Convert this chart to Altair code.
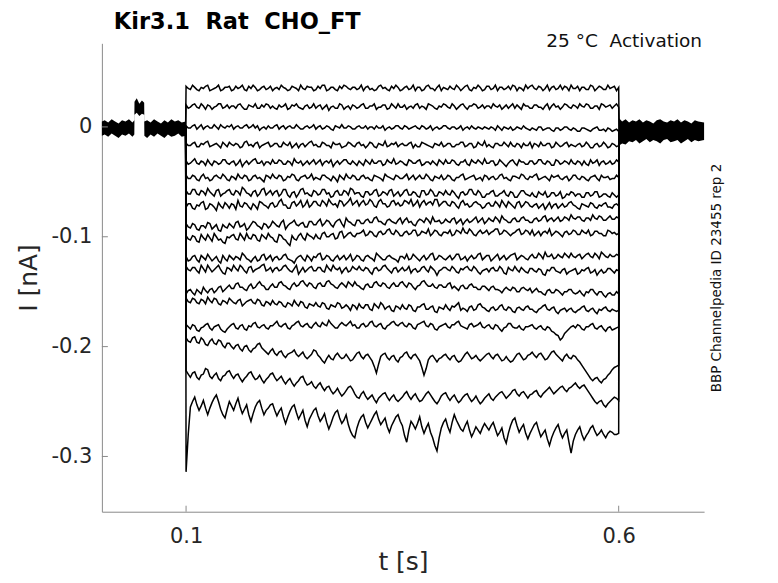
import altair as alt
import pandas as pd

# ---------------- text ----------------
NB = "\u00a0"
title_text = "Kir3.1" + NB + " Rat" + NB + " CHO_FT"
condition_text = "25 °C" + NB + " Activation"
source_text = "BBP Channelpedia ID 23455 rep 2"
x_title = "t [s]"
y_title = "I [nA]"

# ---------------- axes ----------------
x_ticks = [0.1, 0.6]
y_ticks = [0.0, -0.1, -0.2, -0.3]
x_domain = [0.0027, 0.6987]
y_domain = [-0.3503, 0.0761]

# ---------------- sweeps (pA) ----------------
# main samples every 5 ms from 0.100 s to 0.600 s; "mid" samples halfway between them
step_t0 = 0.100
step_dt = 0.005
hold_before_t = 0.0995
hold_after_t = 0.6005
hold_before_pA = 0
hold_after_pA = -3

sweep_01 = [37,34,36,33,35,38,34,36,33,36, 37,34,35,38,33,35,36,34,37,35,
            33,36,38,35,34,36,33,35,37,36, 34,35,38,34,36,33,35,37,34,36,
            35,33,37,35,34,38,36,33,35,36, 34,37,35,33,36,34,38,35,36,33,
            35,37,34,36,35,38,33,35,36,34, 37,35,33,36,35,34,37,36,33,35,
            38,34,36,35,33,37,35,34,36,38, 35,33,36,34,37,35,36,34,35,37, 36]
sweep_01_mid = [35,38,34,36,37,33,35,38,34,36, 33,37,36,34,37,38,33,36,34,37,
                35,34,36,33,37,35,38,34,36,33, 37,38,33,36,34,37,38,35,36,34,
                38,36,34,33,37,35,34,37,38,33, 36,34,38,36,33,37,35,33,38,36,
                34,35,38,33,37,34,36,38,33,37, 34,38,36,34,37,38,33,35,38,37,
                35,37,33,38,36,34,38,37,33,35, 37,36,34,38,33,37,34,38,36,33]
sweep_02 = [20,18,21,17,19,20,16,19,21,18, 17,19,20,18,16,19,21,17,18,20,
            19,16,18,21,17,19,18,16,20,18, 17,20,18,15,19,17,20,18,16,19,
            18,21,17,19,16,18,20,17,19,21, 18,16,19,20,17,18,21,19,16,18,
            20,17,19,18,21,16,19,20,18,17, 19,21,18,16,20,19,17,18,21,19,
            17,20,18,19,16,21,19,18,20,17, 19,21,18,20,17,19,21,18,20,19, 18]
sweep_02_mid = [17,20,18,21,16,19,18,21,17,20, 19,17,21,16,20,18,17,20,21,17,
                17,20,19,16,20,21,17,19,17,21, 19,16,20,18,17,21,16,19,20,17,
                20,17,19,21,18,20,16,21,17,18, 20,18,17,21,19,16,20,17,19,21,
                18,21,16,20,18,19,21,17,20,19, 17,19,20,18,17,21,20,16,19,17,
                20,18,16,21,19,18,16,21,18,20, 17,19,21,17,19,16,20,19,17,21]
sweep_03 = [1,-1,2,0,-2,1,-1,0,2,-1, 0,-2,1,-1,2,0,-1,-3,0,1,
            -1,2,0,-2,1,-1,0,-2,1,0, -2,1,-1,0,-3,0,2,-1,0,-2,
            1,-1,-2,0,1,-1,-3,0,-1,1, -2,0,-1,1,-2,0,-1,-3,0,-1,
            1,-2,0,-1,-3,0,1,-2,-1,0, -2,-1,1,-3,-1,0,-2,-1,1,-2,
            -1,-3,0,-2,-1,-4,-1,-2,0,-3, -2,-4,-1,-3,-2,0,-3,-4,-2,-3, -4]
sweep_03_mid = [-1,1,-2,2,0,-1,2,-2,0,1, 2,0,-1,1,-1,2,1,-1,-2,-1,
                1,-2,1,0,-1,2,-2,0,-1,2, 0,-2,1,-2,1,-1,-1,1,-2,0,
                -1,1,0,-2,-1,1,-1,-2,1,-1, 1,-2,0,-1,1,-2,1,-1,-2,1,
                -1,0,-2,1,-1,-2,-1,0,-2,-1, 0,-3,-1,0,-2,-3,0,-2,-1,-3,
                -2,0,-3,-1,-3,-1,-3,0,-2,-1, -4,-1,-2,-4,-1,-3,-2,-1,-4,-2]
sweep_04 = [-15,-17,-14,-18,-16,-13,-17,-15,-19,-16, -14,-17,-16,-18,-13,-16,-15,-19,-16,-14,
            -17,-15,-18,-16,-14,-17,-19,-15,-16,-13, -16,-18,-15,-17,-14,-16,-19,-17,-15,-18,
            -14,-16,-17,-15,-19,-16,-13,-17,-16,-18, -15,-17,-14,-16,-18,-15,-17,-19,-16,-14,
            -17,-15,-18,-16,-14,-17,-15,-18,-16,-13, -16,-19,-15,-17,-16,-14,-18,-16,-15,-17,
            -19,-16,-14,-17,-15,-18,-16,-17,-14,-16, -18,-15,-17,-16,-19,-15,-17,-16,-18,-16, -17]
sweep_04_mid = [-17,-15,-18,-15,-14,-18,-16,-17,-14,-18, -16,-15,-19,-14,-17,-18,-14,-17,-15,-18,
                -15,-18,-14,-17,-19,-15,-16,-18,-14,-17, -18,-14,-17,-19,-16,-15,-18,-14,-17,-15,
                -17,-19,-14,-18,-15,-17,-18,-15,-14,-16, -17,-15,-19,-18,-14,-16,-18,-15,-17,-18,
                -15,-18,-16,-14,-18,-15,-19,-14,-17,-18, -18,-15,-17,-14,-18,-17,-15,-19,-17,-14,
                -15,-18,-17,-15,-19,-14,-18,-15,-18,-17, -16,-18,-14,-19,-16,-18,-14,-19,-15,-18]
sweep_05 = [-31,-33,-29,-34,-32,-30,-35,-32,-33,-30, -34,-31,-33,-36,-31,-32,-29,-33,-35,-32,
            -30,-33,-31,-34,-32,-29,-33,-35,-31,-32, -34,-30,-32,-33,-36,-31,-32,-30,-34,-33,
            -31,-35,-32,-30,-33,-31,-34,-32,-29,-33, -32,-35,-31,-33,-30,-34,-32,-31,-35,-32,
            -30,-33,-31,-35,-32,-34,-30,-33,-32,-29, -33,-31,-34,-32,-36,-31,-33,-30,-32,-34,
            -31,-33,-30,-34,-32,-35,-31,-33,-32,-30, -34,-32,-31,-35,-33,-30,-32,-34,-31,-33, -32]
sweep_05_mid = [-34,-31,-33,-31,-35,-33,-31,-34,-30,-33, -32,-35,-30,-33,-34,-30,-33,-31,-32,-34,
                -33,-30,-34,-31,-35,-32,-31,-33,-34,-30, -32,-35,-31,-30,-33,-34,-30,-33,-31,-35,
                -33,-30,-34,-33,-31,-35,-30,-33,-34,-31, -34,-30,-33,-31,-35,-32,-34,-33,-30,-34,
                -33,-30,-34,-32,-30,-35,-32,-30,-34,-33, -31,-35,-30,-34,-33,-30,-35,-32,-34,-31,
                -34,-30,-33,-31,-35,-30,-34,-31,-34,-33, -31,-35,-34,-30,-32,-35,-31,-33,-34,-30]
sweep_06 = [-44,-47,-45,-49,-43,-46,-48,-44,-47,-45, -49,-46,-43,-47,-45,-48,-44,-46,-50,-45,
            -43,-47,-45,-48,-46,-44,-49,-45,-47,-43, -46,-48,-44,-47,-45,-50,-46,-43,-47,-45,
            -48,-44,-46,-49,-45,-47,-43,-46,-48,-45, -47,-43,-46,-48,-44,-47,-45,-49,-46,-44,
            -47,-45,-49,-46,-43,-47,-45,-48,-46,-44, -48,-45,-47,-43,-46,-49,-45,-47,-44,-48,
            -46,-43,-47,-45,-49,-46,-44,-48,-45,-47, -44,-48,-46,-49,-45,-47,-44,-46,-48,-47, -46]
sweep_06_mid = [-47,-44,-48,-45,-47,-49,-45,-46,-43,-48, -45,-48,-46,-44,-49,-45,-47,-48,-44,-47,
                -46,-44,-49,-45,-43,-48,-46,-44,-46,-48, -47,-44,-46,-49,-47,-44,-48,-46,-44,-48,
                -45,-47,-48,-44,-46,-49,-45,-47,-44,-47, -45,-48,-44,-46,-47,-43,-48,-45,-47,-48,
                -44,-48,-46,-44,-48,-46,-44,-47,-49,-45, -46,-48,-44,-47,-48,-45,-46,-43,-47,-45,
                -44,-48,-46,-47,-44,-45,-47,-46,-49,-44, -47,-45,-48,-46,-44,-49,-46,-45,-47,-44]
sweep_07 = [-58,-61,-57,-62,-59,-56,-61,-58,-63,-60, -57,-62,-59,-55,-60,-63,-58,-61,-56,-60,
            -62,-58,-61,-57,-64,-59,-61,-56,-60,-63, -59,-61,-57,-60,-63,-58,-62,-59,-56,-61,
            -60,-64,-59,-61,-57,-62,-60,-58,-63,-59, -61,-57,-62,-60,-64,-58,-61,-59,-63,-60,
            -58,-62,-60,-65,-59,-61,-57,-62,-60,-64, -61,-58,-63,-60,-62,-59,-64,-61,-58,-62,
            -60,-64,-61,-59,-63,-60,-62,-65,-61,-59, -63,-61,-64,-60,-62,-59,-63,-61,-64,-62, -62]
sweep_07_mid = [-61,-57,-61,-58,-62,-59,-63,-57,-61,-58, -61,-58,-62,-57,-61,-59,-63,-57,-62,-58,
                -59,-63,-57,-62,-60,-64,-57,-61,-62,-58, -62,-57,-61,-64,-59,-62,-58,-62,-57,-60,
                -63,-59,-62,-58,-63,-59,-62,-57,-61,-63, -58,-62,-59,-63,-58,-62,-57,-63,-59,-62,
                -61,-58,-63,-60,-62,-57,-61,-58,-64,-61, -59,-63,-61,-58,-63,-60,-64,-58,-61,-63,
                -63,-59,-62,-64,-60,-63,-59,-64,-62,-60, -61,-64,-60,-63,-59,-64,-61,-63,-60,-64]
sweep_08 = [-73,-70,-75,-72,-68,-74,-71,-76,-72,-69, -74,-71,-67,-73,-70,-75,-72,-68,-71,-74,
            -69,-72,-66,-71,-74,-68,-70,-73,-67,-71, -68,-72,-69,-66,-71,-73,-68,-70,-65,-69,
            -72,-67,-70,-68,-73,-66,-70,-72,-67,-69, -71,-68,-66,-70,-73,-67,-69,-71,-66,-70,
            -68,-72,-69,-74,-67,-70,-72,-68,-71,-73, -69,-72,-70,-67,-73,-70,-74,-68,-71,-69,
            -73,-70,-72,-75,-69,-71,-74,-70,-72,-68, -72,-75,-71,-73,-70,-74,-72,-69,-73,-71, -72]
sweep_08_mid = [-70,-74,-71,-69,-75,-70,-73,-69,-74,-71, -70,-75,-72,-69,-73,-70,-75,-69,-72,-70,
                -73,-68,-71,-74,-69,-72,-67,-71,-73,-68, -71,-67,-72,-69,-70,-67,-72,-68,-71,-67,
                -69,-71,-66,-72,-68,-70,-73,-68,-71,-72, -67,-70,-72,-67,-69,-71,-68,-66,-72,-68,
                -71,-68,-72,-69,-71,-73,-69,-70,-74,-70, -72,-68,-73,-70,-68,-72,-69,-73,-68,-72,
                -71,-74,-70,-72,-74,-70,-72,-73,-69,-71, -74,-70,-72,-69,-73,-71,-70,-73,-74,-70]
sweep_09 = [-88,-92,-89,-94,-90,-87,-93,-89,-95,-91, -88,-92,-86,-90,-94,-89,-87,-91,-88,-92,
            -86,-90,-87,-93,-88,-85,-90,-87,-91,-86, -89,-84,-88,-86,-91,-85,-88,-83,-87,-90,
            -85,-88,-84,-87,-82,-86,-89,-84,-87,-85, -88,-83,-86,-90,-84,-87,-85,-82,-86,-88,
            -84,-87,-83,-86,-89,-84,-86,-82,-85,-88, -83,-86,-84,-81,-85,-87,-83,-86,-82,-85,
            -87,-83,-85,-81,-84,-86,-82,-85,-83,-80, -84,-82,-86,-83,-80,-84,-82,-85,-81,-84, -83]
sweep_09_mid = [-91,-88,-93,-90,-92,-88,-91,-94,-89,-92, -90,-87,-91,-88,-92,-86,-90,-93,-89,-90,
                -88,-91,-85,-90,-87,-89,-88,-91,-86,-89, -86,-90,-85,-89,-87,-84,-91,-86,-89,-85,
                -88,-85,-87,-83,-86,-88,-85,-86,-88,-83, -85,-87,-89,-86,-85,-83,-88,-86,-85,-87,
                -86,-84,-88,-84,-86,-87,-84,-87,-83,-86, -85,-82,-87,-84,-87,-84,-86,-83,-85,-87,
                -84,-86,-82,-86,-83,-84,-86,-82,-85,-83, -82,-85,-83,-85,-83,-81,-85,-83,-84,-82]
sweep_10 = [-99,-103,-100,-105,-101,-98,-104,-100,-102,-106, -101,-98,-103,-100,-97,-102,-99,-104,-100,-97,
            -101,-105,-99,-103,-108,-102,-99,-101,-97,-100, -98,-102,-96,-100,-97,-101,-95,-99,-96,-100,
            -97,-94,-98,-96,-100,-95,-97,-93,-98,-96, -99,-95,-97,-94,-98,-96,-93,-97,-95,-99,
            -96,-94,-98,-95,-92,-97,-95,-99,-94,-96, -98,-95,-93,-97,-95,-99,-96,-93,-97,-95,
            -94,-97,-99,-95,-93,-97,-96,-100,-95,-97, -95,-98,-96,-94,-98,-95,-97,-99,-95,-96, -97]
sweep_10_mid = [-102,-99,-104,-98,-103,-101,-97,-103,-105,-100, -99,-102,-97,-103,-101,-98,-103,-98,-102,-100,
                -104,-98,-102,-106,-99,-103,-97,-103,-99,-102, -101,-97,-100,-98,-102,-96,-101,-97,-99,-97,
                -96,-99,-95,-99,-96,-98,-94,-97,-94,-99, -96,-98,-94,-99,-95,-97,-99,-94,-98,-96,
                -97,-99,-94,-97,-96,-93,-98,-96,-97,-94, -96,-93,-98,-94,-97,-97,-94,-98,-94,-98,
                -99,-95,-96,-97,-99,-95,-98,-96,-98,-94, -98,-94,-97,-99,-95,-97,-99,-94,-97,-98]
sweep_11 = [-118,-121,-117,-123,-119,-116,-122,-118,-124,-120, -117,-121,-119,-115,-120,-123,-118,-121,-116,-119,
            -122,-118,-120,-116,-121,-124,-118,-120,-117,-122, -119,-115,-120,-118,-122,-117,-119,-121,-116,-120,
            -118,-122,-117,-120,-115,-119,-121,-117,-120,-123, -118,-116,-120,-118,-122,-117,-119,-115,-120,-118,
            -121,-117,-119,-116,-120,-122,-117,-119,-115,-119, -117,-120,-116,-119,-121,-117,-115,-119,-118,-121,
            -116,-119,-117,-114,-118,-120,-116,-119,-117,-115, -119,-116,-118,-115,-119,-117,-114,-118,-116,-118, -117]
sweep_11_mid = [-122,-118,-121,-117,-121,-119,-120,-122,-117,-122, -119,-118,-121,-117,-121,-120,-122,-117,-121,-117,
                -119,-121,-117,-120,-122,-120,-117,-122,-119,-118, -116,-121,-117,-121,-119,-121,-117,-119,-122,-117,
                -121,-118,-119,-122,-117,-121,-118,-119,-121,-118, -120,-121,-116,-120,-119,-121,-116,-121,-117,-120,
                -119,-121,-116,-121,-118,-119,-120,-116,-121,-117, -122,-118,-121,-117,-119,-116,-121,-117,-120,-118,
                -119,-115,-120,-118,-116,-119,-118,-115,-119,-118, -117,-120,-116,-118,-115,-120,-116,-119,-118,-116]
sweep_12 = [-127,-131,-128,-133,-129,-126,-132,-128,-130,-134, -129,-126,-131,-128,-133,-127,-130,-128,-125,-130,
            -132,-128,-130,-126,-131,-129,-134,-128,-130,-127, -131,-128,-132,-129,-126,-130,-133,-128,-131,-129,
            -127,-131,-129,-134,-128,-130,-126,-131,-129,-132, -128,-130,-133,-129,-131,-127,-132,-129,-135,-130,
            -128,-131,-129,-133,-130,-127,-131,-129,-134,-130, -132,-128,-131,-129,-134,-130,-127,-132,-130,-133,
            -129,-132,-130,-135,-131,-128,-132,-130,-134,-131, -129,-133,-131,-128,-132,-135,-130,-132,-129,-133, -131]
sweep_12_mid = [-130,-128,-131,-126,-132,-129,-130,-126,-133,-128, -131,-129,-126,-131,-128,-132,-129,-126,-131,-128,
                -129,-131,-127,-129,-132,-126,-131,-132,-128,-131, -128,-131,-126,-131,-129,-128,-130,-132,-127,-130,
                -130,-128,-132,-129,-131,-127,-129,-133,-128,-130, -131,-127,-130,-132,-128,-130,-127,-131,-131,-128,
                -130,-127,-132,-129,-128,-130,-127,-132,-131,-129, -129,-131,-127,-133,-128,-131,-130,-128,-132,-129,
                -131,-129,-134,-130,-128,-131,-133,-129,-132,-130, -134,-130,-129,-133,-130,-132,-133,-129,-131,-130]
sweep_13 = [-152,-148,-153,-150,-146,-151,-147,-149,-145,-148, -144,-147,-142,-146,-149,-143,-146,-141,-145,-148,
            -143,-146,-141,-145,-148,-142,-144,-140,-145,-143, -147,-142,-145,-140,-144,-147,-142,-146,-143,-141,
            -145,-148,-143,-146,-141,-145,-143,-147,-142,-145, -141,-146,-143,-148,-144,-140,-145,-143,-147,-144,
            -146,-142,-145,-149,-144,-147,-143,-146,-148,-145, -149,-145,-148,-151,-146,-149,-147,-150,-146,-149,
            -151,-147,-150,-153,-148,-151,-149,-153,-150,-148, -152,-149,-154,-151,-148,-153,-150,-155,-151,-153, -152]
sweep_13_mid = [-149,-151,-148,-152,-149,-148,-151,-146,-150,-146, -147,-143,-146,-148,-145,-147,-143,-144,-148,-145,
                -146,-142,-144,-147,-144,-145,-141,-143,-142,-146, -143,-145,-141,-143,-146,-144,-144,-141,-145,-144,
                -147,-144,-146,-142,-144,-142,-146,-144,-145,-142, -144,-142,-146,-145,-141,-143,-145,-146,-144,-146,
                -143,-147,-147,-145,-147,-144,-146,-148,-145,-147, -146,-148,-149,-148,-148,-146,-150,-147,-148,-147,
                -149,-150,-152,-149,-151,-148,-151,-150,-148,-151, -151,-152,-150,-148,-151,-150,-153,-152,-153,-150]
sweep_14 = [-156,-160,-157,-161,-158,-155,-160,-157,-162,-159, -156,-160,-158,-163,-159,-157,-161,-158,-163,-160,
            -158,-162,-160,-164,-161,-158,-163,-160,-165,-162, -160,-164,-161,-166,-163,-160,-165,-162,-167,-163,
            -161,-165,-162,-167,-163,-160,-166,-163,-168,-164, -162,-166,-163,-168,-164,-161,-166,-163,-169,-165,
            -162,-167,-164,-160,-165,-168,-163,-166,-161,-165, -168,-164,-166,-162,-167,-165,-169,-164,-167,-163,
            -166,-169,-165,-162,-167,-164,-170,-166,-168,-165, -169,-166,-163,-168,-165,-170,-167,-164,-168,-167, -167]
sweep_14_mid = [-159,-156,-160,-157,-161,-158,-156,-161,-158,-161, -158,-161,-157,-161,-158,-160,-157,-162,-159,-162,
                -161,-159,-163,-160,-163,-161,-159,-164,-161,-163, -163,-160,-165,-162,-164,-161,-164,-164,-162,-166,
                -164,-162,-166,-161,-165,-162,-164,-167,-163,-166, -165,-162,-167,-164,-162,-166,-164,-168,-164,-166,
                -165,-163,-162,-167,-166,-164,-167,-162,-164,-167, -165,-167,-163,-166,-164,-168,-165,-166,-164,-166,
                -168,-166,-163,-166,-165,-168,-167,-165,-166,-168, -167,-164,-167,-166,-168,-166,-165,-167,-166,-168]
sweep_15 = [-180,-184,-181,-186,-182,-179,-185,-181,-184,-187, -182,-179,-184,-180,-185,-182,-178,-183,-180,-184,
            -181,-177,-182,-179,-184,-180,-177,-182,-179,-183, -178,-182,-180,-176,-181,-183,-178,-181,-177,-180,
            -183,-179,-181,-177,-182,-179,-184,-180,-177,-181, -178,-182,-180,-184,-179,-177,-182,-180,-185,-181,
            -179,-183,-180,-177,-182,-184,-179,-181,-178,-183, -180,-184,-181,-186,-182,-179,-183,-181,-185,-182,
            -180,-184,-181,-185,-183,-187,-190,-192,-186,-182, -183,-181,-185,-182,-179,-184,-181,-186,-182,-184, -182]
sweep_15_mid = [-182,-180,-185,-183,-180,-183,-182,-180,-186,-184, -180,-183,-181,-184,-181,-179,-182,-181,-183,-181,
                -179,-181,-180,-183,-181,-178,-181,-180,-182,-180, -181,-178,-181,-179,-183,-180,-180,-179,-181,-183,
                -180,-182,-178,-181,-180,-183,-181,-178,-180,-179, -181,-179,-183,-180,-178,-181,-179,-184,-182,-180,
                -182,-180,-178,-181,-183,-180,-182,-180,-182,-181, -183,-180,-184,-183,-179,-182,-183,-184,-182,-181,
                -183,-182,-184,-182,-186,-189,-194,-188,-184,-181, -180,-184,-182,-180,-183,-182,-184,-183,-185,-183]
sweep_16 = [-192,-196,-191,-197,-194,-199,-193,-198,-195,-201, -197,-202,-198,-204,-199,-205,-201,-197,-203,-207,
            -202,-208,-204,-210,-206,-203,-209,-205,-211,-207, -204,-210,-215,-208,-212,-206,-211,-207,-213,-209,
            -205,-211,-207,-213,-224,-209,-206,-212,-208,-214, -209,-205,-211,-207,-213,-226,-212,-208,-214,-210,
            -207,-212,-208,-214,-210,-205,-211,-208,-213,-209, -206,-211,-207,-213,-209,-214,-210,-206,-212,-208,
            -205,-210,-206,-212,-208,-204,-209,-213,-207,-211, -209,-214,-220,-226,-231,-228,-233,-229,-224,-219, -217]
sweep_16_mid = [-195,-192,-196,-192,-198,-195,-197,-194,-199,-197, -200,-199,-202,-200,-203,-202,-198,-201,-205,-204,
                -206,-205,-208,-207,-205,-207,-207,-209,-209,-203, -208,-213,-211,-211,-208,-209,-210,-210,-212,-206,
                -209,-208,-210,-218,-216,-207,-210,-209,-212,-210, -206,-209,-208,-210,-219,-220,-209,-211,-211,-208,
                -210,-209,-212,-213,-207,-208,-210,-211,-211,-207, -209,-208,-210,-212,-212,-213,-207,-209,-211,-207,
                -208,-207,-209,-211,-205,-207,-211,-209,-210,-208, -212,-217,-223,-229,-229,-231,-230,-226,-221,-218]
sweep_17 = [-222,-228,-223,-230,-225,-221,-229,-224,-231,-226, -222,-229,-225,-232,-227,-223,-230,-226,-233,-228,
            -224,-231,-227,-234,-229,-236,-231,-227,-235,-232, -238,-233,-240,-236,-243,-238,-245,-240,-236,-243,
            -247,-241,-248,-244,-251,-245,-242,-249,-244,-250, -246,-241,-248,-243,-250,-246,-241,-247,-252,-245,
            -242,-249,-244,-251,-246,-243,-250,-245,-252,-247, -243,-249,-244,-241,-247,-243,-239,-245,-241,-247,
            -243,-240,-246,-241,-237,-243,-239,-236,-241,-237, -233,-238,-235,-241,-247,-252,-249,-255,-250,-246, -249]
sweep_17_mid = [-225,-224,-228,-226,-220,-227,-226,-229,-227,-223, -226,-226,-229,-229,-224,-227,-229,-230,-230,-225,
                -228,-229,-231,-231,-233,-233,-228,-232,-234,-236, -235,-237,-237,-240,-241,-242,-243,-237,-239,-246,
                -243,-245,-246,-248,-247,-243,-246,-246,-248,-248, -243,-245,-245,-247,-249,-243,-244,-250,-249,-243,
                -246,-246,-248,-249,-244,-247,-248,-249,-250,-245, -247,-246,-242,-244,-245,-240,-243,-242,-244,-244,
                -241,-244,-243,-239,-240,-241,-237,-239,-238,-235, -236,-236,-238,-244,-250,-250,-253,-252,-248,-247]
sweep_18 = [-314,-255,-246,-258,-249,-262,-251,-244,-257,-265, -250,-258,-247,-261,-253,-268,-255,-249,-262,-256,
            -252,-263,-256,-270,-259,-253,-266,-258,-273,-262, -256,-268,-261,-275,-264,-258,-270,-262,-277,-283,
            -268,-262,-274,-266,-259,-271,-265,-278,-268,-262, -272,-287,-268,-275,-264,-279,-270,-283,-295,-274,
            -266,-278,-262,-271,-277,-268,-282,-273,-279,-270, -276,-269,-281,-274,-288,-272,-265,-278,-271,-284,
            -275,-269,-282,-276,-290,-278,-271,-283,-276,-297, -280,-273,-285,-278,-272,-281,-276,-283,-277,-280, -279]
sweep_18_mid = [-280,-250,-253,-254,-256,-256,-247,-250,-262,-257, -254,-252,-255,-257,-262,-261,-251,-256,-258,-253,
                -258,-259,-264,-264,-255,-260,-262,-267,-266,-258, -263,-265,-269,-270,-260,-265,-267,-271,-281,-274,
                -264,-269,-270,-262,-266,-268,-273,-272,-264,-268, -281,-276,-271,-270,-273,-274,-278,-290,-283,-269,
                -273,-269,-267,-275,-272,-276,-278,-276,-274,-273, -272,-275,-278,-283,-279,-267,-272,-274,-279,-279,
                -271,-276,-279,-284,-283,-274,-278,-279,-287,-286, -276,-280,-281,-274,-277,-279,-280,-279,-278,-280]

sweeps = [(sweep_01, sweep_01_mid), (sweep_02, sweep_02_mid), (sweep_03, sweep_03_mid),
          (sweep_04, sweep_04_mid), (sweep_05, sweep_05_mid), (sweep_06, sweep_06_mid),
          (sweep_07, sweep_07_mid), (sweep_08, sweep_08_mid), (sweep_09, sweep_09_mid),
          (sweep_10, sweep_10_mid), (sweep_11, sweep_11_mid), (sweep_12, sweep_12_mid),
          (sweep_13, sweep_13_mid), (sweep_14, sweep_14_mid), (sweep_15, sweep_15_mid),
          (sweep_16, sweep_16_mid), (sweep_17, sweep_17_mid), (sweep_18, sweep_18_mid)]

# ---------------- overlapping holding-current band (pA envelope of all sweeps) ----------------
band_pre_t = [0.0027, 0.006, 0.010, 0.014, 0.018, 0.022, 0.026, 0.030, 0.034, 0.038,
              0.0402, 0.0404, 0.043, 0.046, 0.049, 0.0516, 0.0518, 0.055, 0.059, 0.063,
              0.067, 0.071, 0.075, 0.079, 0.083, 0.087, 0.091, 0.095, 0.0995]
band_pre_hi = [5, 6, 4, 7, 5, 3, 6, 5, 7, 4,
               6, 23, 26, 21, 24, 22, 5, 6, 4, 7,
               5, 3, 6, 4, 7, 5, 6, 4, 5]
band_pre_lo = [-8, -7, -9, -6, -8, -10, -7, -8, -6, -9,
               -7, 11, 13, 10, 12, 11, -8, -10, -7, -9,
               -6, -8, -10, -7, -9, -8, -6, -9, -8]
band_post_t = [0.6005, 0.604, 0.608, 0.612, 0.616, 0.620, 0.624, 0.628, 0.632, 0.636,
               0.640, 0.644, 0.648, 0.652, 0.656, 0.660, 0.664, 0.668, 0.672, 0.676,
               0.680, 0.684, 0.688, 0.692, 0.6987]
band_post_hi = [8, 5, 7, 4, 6, 5, 7, 4, 6, 5, 3, 6, 7, 5, 4, 6, 5, 7, 4, 6, 5, 3, 6, 5, 4]
band_post_lo = [-17, -15, -16, -13, -14, -12, -15, -13, -11, -14, -12, -13, -15, -12, -11,
                -14, -13, -12, -15, -13, -11, -14, -12, -13, -12]

# ---------------- tables ----------------
rows = []
for i, (main, mid) in enumerate(sweeps, start=1):
    rows.append({"sweep": i, "t": hold_before_t, "I": hold_before_pA / 1000})
    for k, v in enumerate(main):
        rows.append({"sweep": i, "t": round(step_t0 + step_dt * k, 5), "I": v / 1000})
        if k < len(mid) and k < len(main) - 1:
            rows.append({"sweep": i, "t": round(step_t0 + step_dt * (k + 0.5), 5),
                         "I": mid[k] / 1000})
    rows.append({"sweep": i, "t": hold_after_t, "I": hold_after_pA / 1000})
traces = pd.DataFrame(rows)

band_rows = []
for t, hi, lo in zip(band_pre_t, band_pre_hi, band_pre_lo):
    band_rows.append({"seg": "pre", "t": t, "I": hi / 1000, "I2": lo / 1000})
for t, hi, lo in zip(band_post_t, band_post_hi, band_post_lo):
    band_rows.append({"seg": "post", "t": t, "I": hi / 1000, "I2": lo / 1000})
band_df = pd.DataFrame(band_rows)

xtick_df = pd.DataFrame({"t": x_ticks})
ytick_df = pd.DataFrame({"I": y_ticks})

# ---------------- styling ----------------
FONT = "DejaVu Sans"
W, H = 603, 469
AXIS_GRAY = "#8a8a8a"
TEXT_DARK = "#262626"

x_scale = alt.Scale(domain=x_domain, nice=False, zero=False)
y_scale = alt.Scale(domain=y_domain, nice=False, zero=False)

x_axis = alt.Axis(values=x_ticks, format=".1f", title=x_title, ticks=False, tickSize=0,
                  grid=False, labelFont=FONT, labelFontSize=21, labelColor=TEXT_DARK,
                  labelPadding=14, labelFlush=False, domainColor=AXIS_GRAY, domainWidth=1,
                  titleFont=FONT, titleFontSize=25, titleFontWeight="normal",
                  titleColor=TEXT_DARK, titlePadding=3)
y_axis = alt.Axis(values=y_ticks,
                  labelExpr="datum.value == 0 ? '0' : '-' + format(abs(datum.value), '.1f')",
                  title=y_title, ticks=False, tickSize=0, grid=False, labelFont=FONT,
                  labelFontSize=21, labelColor=TEXT_DARK, labelPadding=10, labelFlush=False,
                  domainColor=AXIS_GRAY, domainWidth=1, titleFont=FONT, titleFontSize=25,
                  titleFontWeight="normal", titleColor=TEXT_DARK, titlePadding=9)

X = alt.X("t:Q", scale=x_scale, axis=x_axis)
Y = alt.Y("I:Q", scale=y_scale, axis=y_axis)

band = alt.Chart(band_df).mark_area(color="black", opacity=1).encode(
    x=X, y=Y, y2="I2:Q", detail="seg:N")

lines = alt.Chart(traces).mark_line(color="black", strokeWidth=1.5, strokeJoin="miter").encode(
    x=X, y=Y, detail="sweep:N")

xticks_in = alt.Chart(xtick_df).mark_rule(color=AXIS_GRAY, strokeWidth=1).encode(
    x=X, y=alt.value(H), y2=alt.value(H - 6))
yticks_in = alt.Chart(ytick_df).mark_rule(color=AXIS_GRAY, strokeWidth=1).encode(
    y=Y, x=alt.value(0), x2=alt.value(6))

title_mark = alt.Chart(pd.DataFrame({"label": [title_text]})).mark_text(
    align="left", baseline="alphabetic", font=FONT, fontSize=22.5, fontWeight="bold",
    color="black").encode(x=alt.value(12), y=alt.value(-14), text="label:N")

cond = alt.Chart(pd.DataFrame({"label": [condition_text]})).mark_text(
    align="right", baseline="alphabetic", font=FONT, fontSize=18.5, color="#111111").encode(
    x=alt.value(W - 2), y=alt.value(4), text="label:N")

src = alt.Chart(pd.DataFrame({"label": [source_text]})).mark_text(
    angle=270, align="center", baseline="middle", font=FONT, fontSize=13.5, color="#111111").encode(
    x=alt.value(616), y=alt.value(235), text="label:N")

chart = alt.layer(band, lines, xticks_in, yticks_in, title_mark, cond, src).properties(
    width=W, height=H,
    autosize=alt.AutoSizeParams(type="none"),
    padding={"left": 94, "top": 35, "right": 66, "bottom": 63},
).configure_view(stroke="transparent")

chart.save("out.html", embed_options={"renderer": "svg", "actions": False})
